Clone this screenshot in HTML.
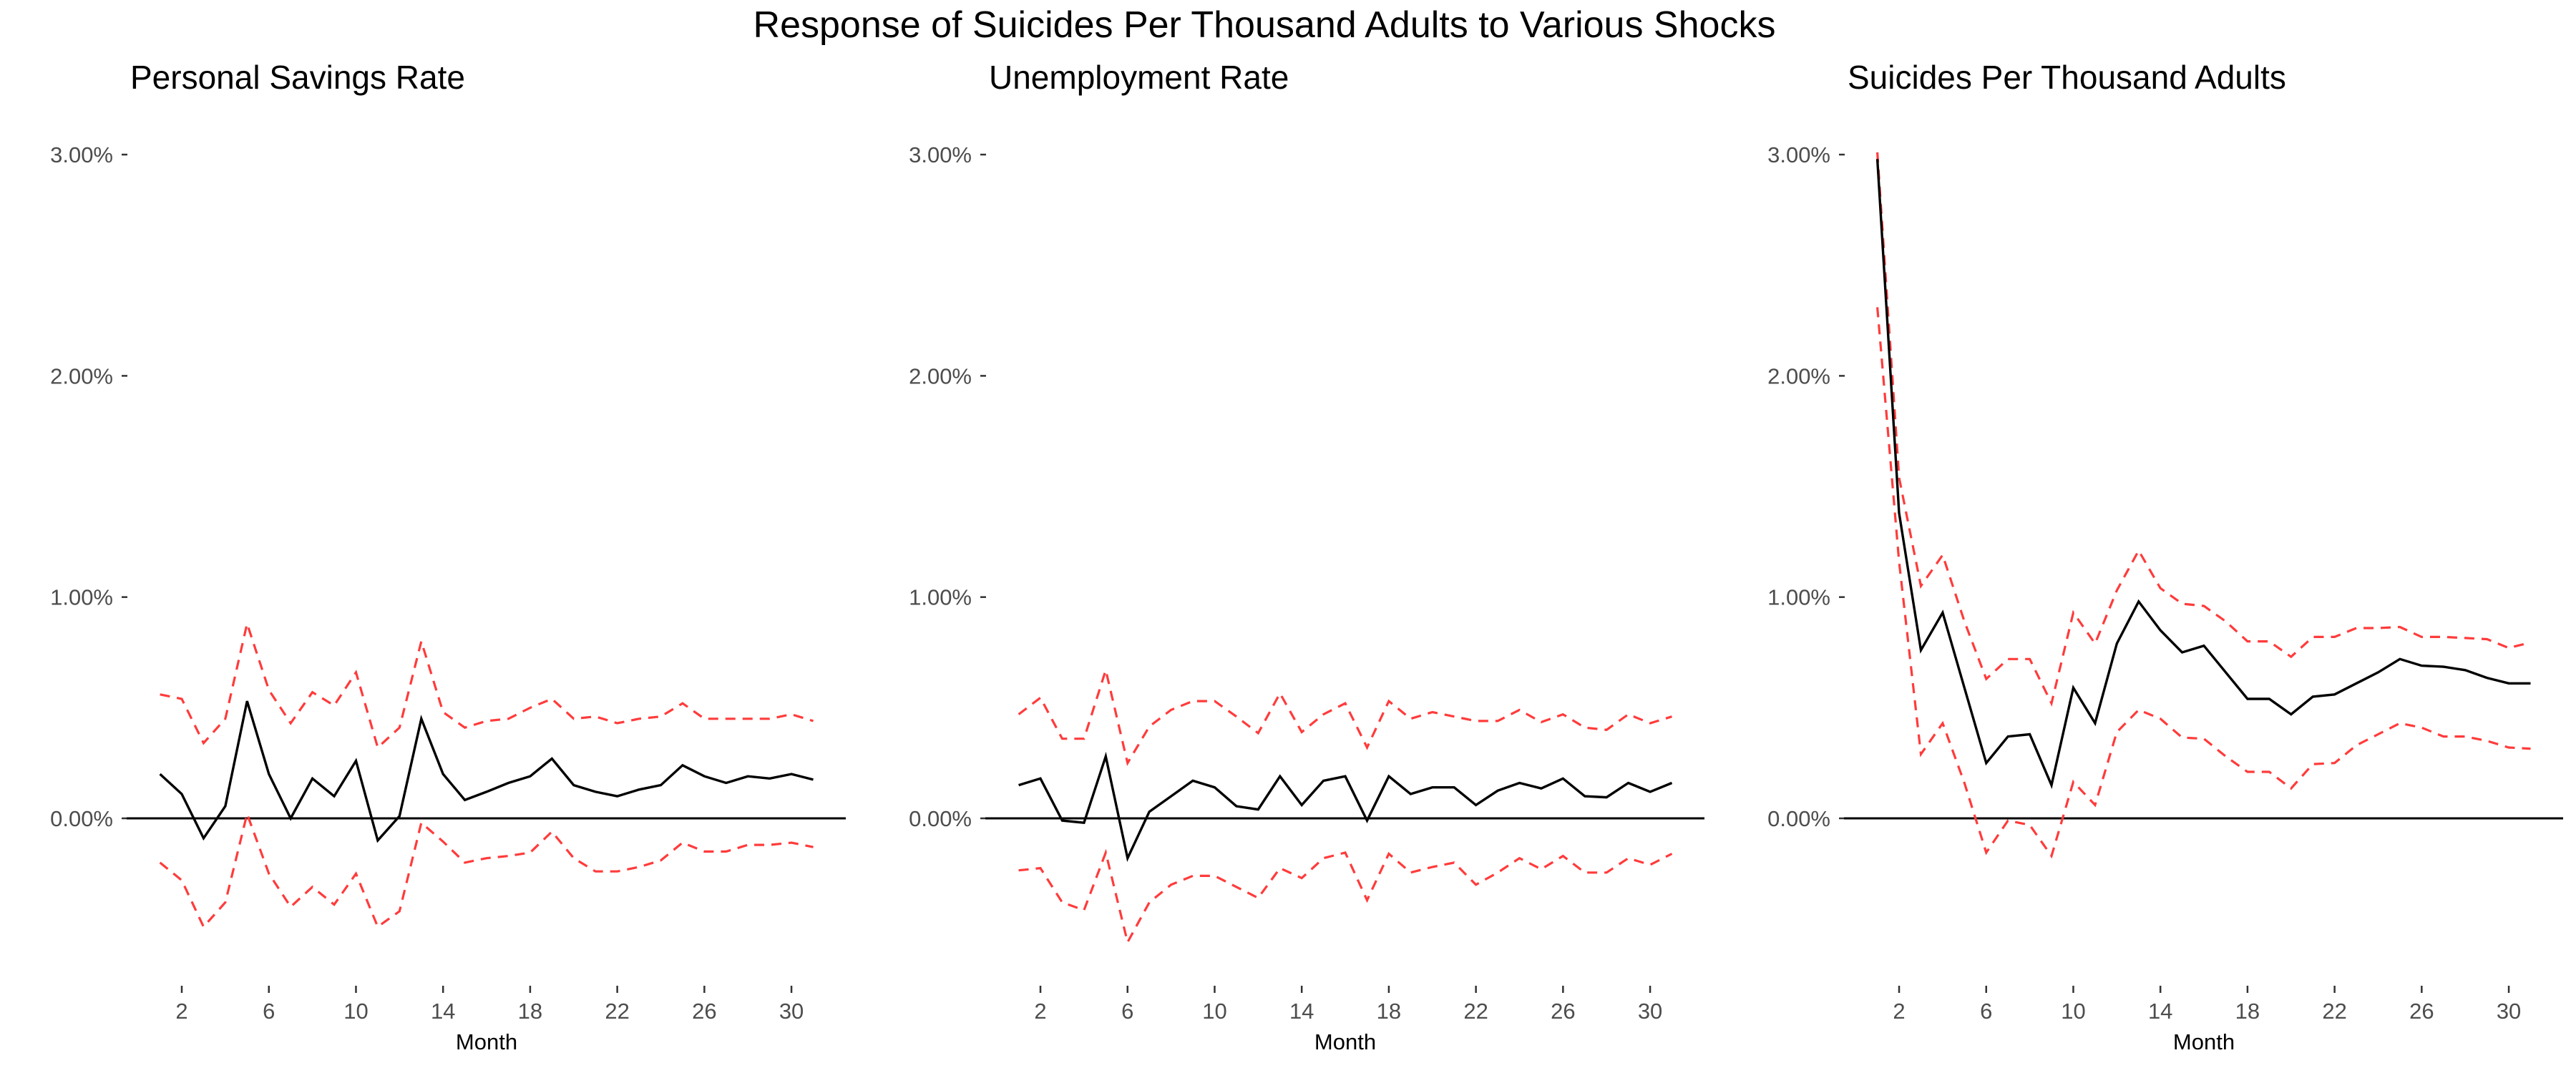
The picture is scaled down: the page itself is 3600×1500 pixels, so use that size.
<!DOCTYPE html>
<html><head><meta charset="utf-8">
<style>
html,body{margin:0;padding:0;background:#fff;}
svg{display:block;font-family:"Liberation Sans",Arial,sans-serif;}
</style></head>
<body>
<svg id="chart" width="3600" height="1500" viewBox="0 0 3600 1500" xmlns="http://www.w3.org/2000/svg">
<text x="1767" y="52" text-anchor="middle" font-size="52" fill="#000">Response of Suicides Per Thousand Adults to Various Shocks</text>
</svg>
<script>
const panelTitles = ["Personal Savings Rate","Unemployment Rate","Suicides Per Thousand Adults"];
const months = [1,2,3,4,5,6,7,8,9,10,11,12,13,14,15,16,17,18,19,20,21,22,23,24,25,26,27,28,29,30,31];
const xTicks = [2,6,10,14,18,22,26,30];
const yTicks = [0,1,2,3];
const yTickLabels = ["0.00%","1.00%","2.00%","3.00%"];
const savingsIrf = [0.20,0.11,-0.09,0.055,0.53,0.20,0,0.18,0.10,0.26,-0.10,0.01,0.45,0.20,0.083,0.12,0.16,0.19,0.27,0.15,0.12,0.10,0.13,0.15,0.24,0.19,0.16,0.19,0.18,0.20,0.175];
const savingsUpper = [0.56,0.54,0.34,0.45,0.88,0.58,0.43,0.57,0.51,0.66,0.32,0.41,0.80,0.48,0.41,0.44,0.45,0.50,0.54,0.45,0.46,0.43,0.45,0.46,0.52,0.45,0.45,0.45,0.45,0.47,0.44];
const savingsLower = [-0.20,-0.28,-0.49,-0.38,0.02,-0.25,-0.40,-0.31,-0.39,-0.25,-0.49,-0.42,-0.02,-0.105,-0.20,-0.18,-0.17,-0.155,-0.06,-0.18,-0.24,-0.24,-0.22,-0.19,-0.11,-0.15,-0.15,-0.12,-0.12,-0.11,-0.13];
const unempIrf = [0.15,0.18,-0.01,-0.02,0.28,-0.18,0.03,0.10,0.17,0.14,0.055,0.04,0.19,0.06,0.17,0.19,-0.01,0.19,0.11,0.14,0.14,0.06,0.125,0.16,0.135,0.18,0.10,0.095,0.16,0.12,0.16];
const unempUpper = [0.47,0.545,0.36,0.36,0.67,0.25,0.415,0.49,0.53,0.53,0.46,0.385,0.565,0.39,0.47,0.52,0.32,0.53,0.45,0.48,0.46,0.44,0.44,0.49,0.435,0.47,0.41,0.40,0.47,0.43,0.46];
const unempLower = [-0.235,-0.225,-0.38,-0.415,-0.155,-0.56,-0.38,-0.30,-0.26,-0.26,-0.31,-0.36,-0.225,-0.27,-0.18,-0.155,-0.37,-0.16,-0.245,-0.22,-0.20,-0.30,-0.245,-0.18,-0.23,-0.17,-0.245,-0.245,-0.18,-0.21,-0.16];
const suicIrf = [2.98,1.38,0.76,0.93,0.59,0.25,0.37,0.38,0.15,0.59,0.43,0.79,0.98,0.85,0.75,0.78,0.66,0.54,0.54,0.47,0.55,0.56,0.61,0.66,0.72,0.69,0.685,0.67,0.635,0.61,0.61];
const suicUpper = [3.01,1.54,1.05,1.19,0.89,0.63,0.72,0.72,0.52,0.93,0.79,1.03,1.21,1.04,0.97,0.96,0.89,0.80,0.80,0.73,0.82,0.82,0.86,0.86,0.865,0.82,0.82,0.815,0.81,0.77,0.795];
const suicLower = [2.31,1.16,0.29,0.43,0.16,-0.155,-0.01,-0.03,-0.17,0.165,0.06,0.39,0.49,0.45,0.365,0.36,0.28,0.21,0.21,0.135,0.245,0.25,0.33,0.38,0.43,0.41,0.37,0.37,0.35,0.32,0.315];

const panelsIrf = [savingsIrf, unempIrf, suicIrf];
const panelsUpper = [savingsUpper, unempUpper, suicUpper];
const panelsLower = [savingsLower, unempLower, suicLower];

const svg = document.getElementById('chart');
const NS = 'http://www.w3.org/2000/svg';
function mk(tag, attrs, parent){
  const e = document.createElementNS(NS, tag);
  for (const k in attrs) e.setAttribute(k, attrs[k]);
  parent.appendChild(e);
  return e;
}
const y0 = 1144, pxPerPct = 309.3;
function yScale(v){ return y0 - v*pxPerPct; }
function xScaleFor(off){ return m => off + 223.6 + (m-1)*30.43; }

panelTitles.forEach((title, p) => {
  const off = p*1200;
  const xs = xScaleFor(off);
  const g = mk('g', {}, svg);
  
  
  const t = mk('text', {x: off+182, y: 124, 'font-size': 46, fill: '#000'}, g);
  
  
  t.textContent = title;
  yTicks.forEach((v, i) => {
    const tk = mk('line', {x1: off+170, x2: off+178, y1: yScale(v), y2: yScale(v), stroke: '#333', 'stroke-width': 2.5}, g);
    
    
    const lb = mk('text', {x: off+158, y: yScale(v)+11, 'text-anchor': 'end', 'font-size': 31, fill: '#4d4d4d'}, g);
    
    
    lb.textContent = yTickLabels[i];
  });
  xTicks.forEach(m => {
    const tk = mk('line', {x1: xs(m), x2: xs(m), y1: 1378, y2: 1388, stroke: '#333', 'stroke-width': 2.5}, g);
    
    
    const lb = mk('text', {x: xs(m), y: 1424, 'text-anchor': 'middle', 'font-size': 31, fill: '#4d4d4d'}, g);
    
    
    lb.textContent = m;
  });
  const xl = mk('text', {x: off+680, y: 1467, 'text-anchor': 'middle', 'font-size': 31, fill: '#000'}, g);
  
  
  xl.textContent = 'Month';
  const zl = mk('line', {x1: off+177, x2: off+1182, y1: yScale(0), y2: yScale(0), stroke: '#000', 'stroke-width': 3}, g);
  
  
  function path(arr){ return arr.map((v,i)=>(i?'L':'M')+xs(months[i]).toFixed(1)+','+yScale(v).toFixed(1)).join(''); }
  const up = mk('path', {d: path(panelsUpper[p]), fill: 'none', stroke: '#ff3b3b', 'stroke-width': 3.2, 'stroke-dasharray': '14 10'}, g);
  
  
  const lo = mk('path', {d: path(panelsLower[p]), fill: 'none', stroke: '#ff3b3b', 'stroke-width': 3.2, 'stroke-dasharray': '14 10'}, g);
  
  
  const ir = mk('path', {d: path(panelsIrf[p]), fill: 'none', stroke: '#000', 'stroke-width': 3.4}, g);
  
  
});
</script>
</body></html>
